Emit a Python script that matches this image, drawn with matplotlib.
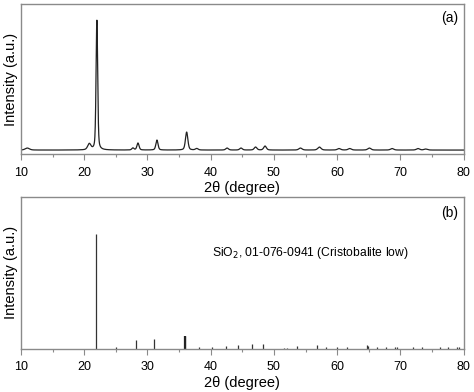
import numpy as np
import matplotlib.pyplot as plt

plt.rcParams['font.family'] = ['Liberation Sans', 'DejaVu Sans']

# (a) measured pattern: peak position, height above baseline, FWHM
peak_pos = [11.0, 20.8, 22.0, 27.7, 28.5, 31.5, 36.2, 37.8, 42.6, 44.8,
            47.1, 48.6, 54.2, 57.2, 60.3, 62.0, 65.1, 68.7, 72.8, 74.0]
peak_hgt = [2.0, 6.0, 130.0, 2.0, 7.0, 10.0, 18.0, 1.5, 2.0, 2.0,
            3.0, 4.0, 2.0, 3.0, 1.5, 1.5, 2.0, 1.5, 1.5, 1.0]
peak_fwhm = [0.8, 0.6, 0.3, 0.4, 0.4, 0.4, 0.45, 0.5, 0.5, 0.5,
             0.5, 0.5, 0.6, 0.6, 0.6, 0.6, 0.6, 0.6, 0.6, 0.6]
baseline = 4.0

# (b) reference card 01-076-0941, relative intensities
ref_pos = [21.86, 25.08, 28.18, 31.03, 35.88, 38.15, 40.25, 42.4, 44.4, 46.5,
           48.27, 51.6, 52.0, 53.6, 56.75, 58.3, 60.0, 61.55, 64.67, 64.85,
           66.25, 67.8, 69.1, 69.4, 72.0, 73.36, 76.3, 77.6, 78.9, 79.2]
ref_int = [100, 1.7, 7.5, 8.4, 11.3, 1.1, 1.1, 2.6, 3.2, 4.3,
           4.3, 0.9, 0.9, 2.6, 3.5, 1.3, 1.7, 1.7, 3.0, 2.2,
           1.1, 1.7, 1.7, 1.7, 1.1, 1.7, 1.1, 1.1, 1.1, 1.1]

x = np.linspace(10, 80, 3500)
y = np.full_like(x, baseline)
for p, h, w in zip(peak_pos, peak_hgt, peak_fwhm):
    g = np.exp(-4 * np.log(2) * ((x - p) / w) ** 2)
    l = 1 / (1 + 4 * ((x - p) / w) ** 2)
    y += h * (0.6 * g + 0.4 * l)

fig = plt.figure(figsize=(4.74, 3.92), dpi=100)
ax1 = fig.add_axes([0.0443, 0.607, 0.9337, 0.382])
ax2 = fig.add_axes([0.0443, 0.1105, 0.9337, 0.387])

spine_c = '#8a8a8a'
for ax in (ax1, ax2):
    ax.set_xlim(10, 80)
    ax.set_xticks(range(10, 81, 10))
    ax.set_xticks(range(15, 80, 10), minor=True)
    ax.set_yticks([])
    ax.tick_params(axis='x', which='major', direction='out', length=4,
                   width=0.8, color=spine_c, labelsize=9, pad=5)
    ax.tick_params(axis='x', which='minor', direction='out', length=2,
                   width=0.8, color=spine_c)
    for s in ax.spines.values():
        s.set_color(spine_c)
        s.set_linewidth(1.0)
    ax.set_xlabel('2θ (degree)', fontsize=10.5, labelpad=2)
    ax.set_ylabel('Intensity (a.u.)', fontsize=10.5, labelpad=2)

ax1.plot(x, y, color='#222222', lw=0.9)
ax1.set_ylim(0, 150)
ax1.text(0.987, 0.91, '(a)', transform=ax1.transAxes, ha='right',
         va='center', fontsize=10)

ax2.vlines(ref_pos, 0, ref_int, color='#333333', lw=0.9)
ax2.vlines(ref_pos[4], 0, ref_int[4], color='#222222', lw=1.6)
ax2.set_ylim(0, 131.9)
ax2.text(0.987, 0.895, '(b)', transform=ax2.transAxes, ha='right',
         va='center', fontsize=10)
ax2.text(0.431, 0.63, 'SiO$_2$, 01-076-0941 (Cristobalite low)',
         transform=ax2.transAxes, ha='left', va='center', fontsize=8.7)

fig.savefig('out.png', dpi=100)
